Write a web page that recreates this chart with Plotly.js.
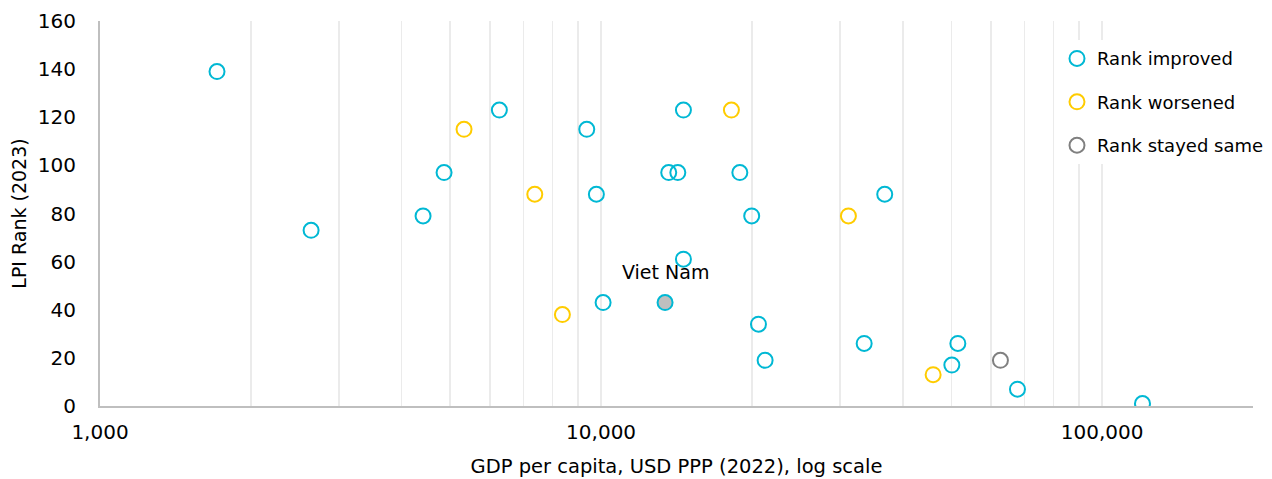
<!DOCTYPE html>
<html>
<head>
<meta charset="utf-8">
<script src="https://cdn.plot.ly/plotly-3.0.1.min.js"></script>
<style>
  html, body { margin: 0; padding: 0; background: #ffffff; }
  #chart { width: 1272px; height: 479px; }
</style>
</head>
<body>
<div id="chart"></div>
<script>
// GDP per capita (USD PPP, 2022) and LPI rank (2023), grouped by rank change
const improvedGdp  = [1712, 2638, 4413, 4860, 6266, 9363, 9786, 10093, 13646, 14228, 14600, 14600, 18920, 19980, 20610, 21250, 36820, 33500, 50120, 51520, 67760, 120360];
const improvedRank = [139, 73, 79, 97, 123, 115, 88, 43, 97, 97, 123, 61, 97, 79, 34, 19, 88, 26, 17, 26, 7, 1];

const worsenedGdp  = [5327, 7374, 8372, 18200, 31160, 45990];
const worsenedRank = [115, 88, 38, 123, 79, 13];

const sameGdp  = [62660];
const sameRank = [19];

// Highlighted country
const highlightName = ["Viet Nam"];
const highlightGdp  = [13418];
const highlightRank = [43];

const seriesNames = ["Rank improved", "Rank worsened", "Rank stayed same"];

// Gridline positions on the log axis: every integer multiple within each decade
const gridVals = [1000, 2000, 3000, 4000, 5000, 6000, 7000, 8000, 9000,
                  10000, 20000, 30000, 40000, 50000, 60000, 70000, 80000, 90000,
                  100000, 200000];
const gridText = ["1,000", "", "", "", "", "", "", "", "",
                  "10,000", "", "", "", "", "", "", "", "",
                  "100,000", ""];
const yTicks = [0, 20, 40, 60, 80, 100, 120, 140, 160];

const CYAN = "#00b8d4";
const GOLD = "#ffcc00";
const GREY = "#808080";
const FONT = "DejaVu Sans, sans-serif";

function ring(color) {
  return { symbol: "circle", size: 15, color: "rgba(255,255,255,0)", line: { color: color, width: 2 } };
}

const traces = [
  { type: "scatter", mode: "markers", name: seriesNames[0], legendgroup: "a",
    x: improvedGdp, y: improvedRank, marker: ring(CYAN), hoverinfo: "x+y" },
  { type: "scatter", mode: "markers", name: seriesNames[1], legendgroup: "b",
    x: worsenedGdp, y: worsenedRank, marker: ring(GOLD), hoverinfo: "x+y" },
  { type: "scatter", mode: "markers", name: seriesNames[2], legendgroup: "c",
    x: sameGdp, y: sameRank, marker: ring(GREY), hoverinfo: "x+y" },
  { type: "scatter", mode: "markers", name: highlightName[0], showlegend: false,
    x: highlightGdp, y: highlightRank,
    marker: { symbol: "circle", size: 15, color: "#bfbfbf", line: { color: CYAN, width: 2 } },
    hoverinfo: "x+y+name" }
];

const layout = {
  width: 1272, height: 479,
  margin: { l: 100, r: 19, t: 21, b: 73, autoexpand: false },
  paper_bgcolor: "#ffffff", plot_bgcolor: "#ffffff",
  font: { family: FONT, size: 18, color: "#000000" },
  showlegend: true,
  legend: {
    x: 0.83, xanchor: "left", y: 0.95, yanchor: "top",
    bgcolor: "#ffffff", borderwidth: 0,
    traceorder: "grouped", tracegroupgap: 17,
    itemwidth: 30,
    font: { family: FONT, size: 18, color: "#000000" }
  },
  xaxis: {
    type: "log",
    range: [3, Math.log10(200000)],
    tickmode: "array", tickvals: gridVals, ticktext: gridText,
    ticks: "", ticklabelstandoff: 7,
    showgrid: true, gridcolor: "#ebebeb", gridwidth: 1.5,
    showline: true, linecolor: "#bfbfbf", linewidth: 2,
    zeroline: false,
    tickfont: { family: FONT, size: 20, color: "#000000" },
    title: { text: "GDP per capita, USD PPP (2022), log scale", standoff: 16,
             font: { family: FONT, size: 19.5, color: "#000000" } }
  },
  yaxis: {
    range: [0, 160],
    tickmode: "array", tickvals: yTicks,
    ticks: "", ticklabelstandoff: 18,
    showgrid: false,
    showline: true, linecolor: "#bfbfbf", linewidth: 2,
    zeroline: false,
    tickfont: { family: FONT, size: 20, color: "#000000" },
    title: { text: "LPI Rank (2023)", standoff: 6,
             font: { family: FONT, size: 19, color: "#000000" } }
  },
  annotations: [{
    x: Math.log10(highlightGdp[0]), y: highlightRank[0],
    xref: "x", yref: "y",
    text: highlightName[0], showarrow: false, yshift: 31,
    font: { family: FONT, size: 19, color: "#000000" }
  }]
};

Plotly.newPlot("chart", traces, layout, { displayModeBar: false, staticPlot: true });
</script>
</body>
</html>
